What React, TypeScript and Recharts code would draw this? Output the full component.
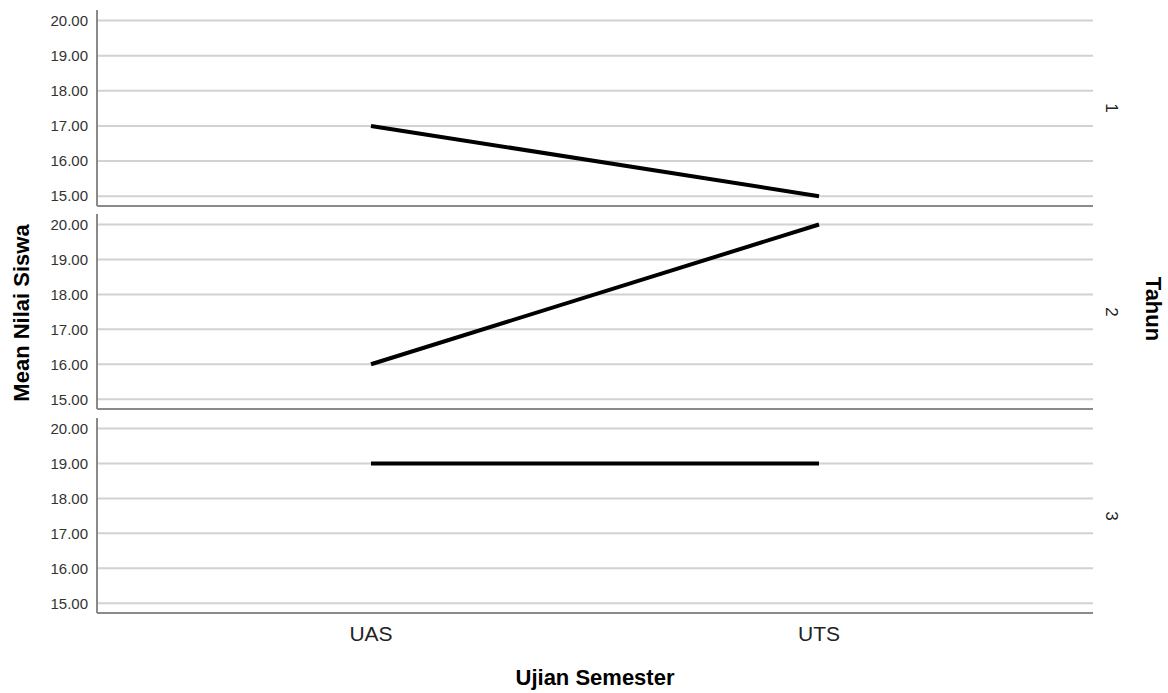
import { LineChart, Line, XAxis, YAxis, CartesianGrid } from "recharts";

const categories = ["UAS", "UTS"];
const years = ["1", "2", "3"];
const uasMeans = [17, 16, 19];
const utsMeans = [15, 20, 19];
const yTicks = [15, 16, 17, 18, 19, 20];

const FONT = '"Liberation Sans", Arial, sans-serif';
const AXIS = "#8a8a8a";
const GRID = "#d2d2d2";

const panels = [
  { top: 10, plot: 196 },
  { top: 214, plot: 195 },
  { top: 418, plot: 195 },
];

type PanelProps = { idx: number; last: boolean };

const Panel = ({ idx, last }: PanelProps) => {
  const data = categories.map((c, i) => ({
    ujian: c,
    mean: i === 0 ? uasMeans[idx] : utsMeans[idx],
  }));
  const p = panels[idx];
  const xHeight = last ? 80 : 2;

  return (
    <div style={{ position: "absolute", left: 0, top: p.top }}>
      <LineChart
        width={1168}
        height={p.plot + xHeight}
        data={data}
        margin={{ top: 0, right: 75, bottom: 0, left: 0 }}
      >
        <CartesianGrid
          yAxisId="l"
          vertical={false}
          syncWithTicks
          stroke={GRID}
          strokeWidth={2}
        />
        <XAxis
          dataKey="ujian"
          height={xHeight}
          padding={{ left: 274, right: 274 }}
          axisLine={{ stroke: AXIS, strokeWidth: 2 }}
          tickLine={false}
          tickSize={0}
          tickMargin={13}
          tick={last ? { fontSize: 21, fill: "#222" } : false}
        />
        <YAxis
          yAxisId="l"
          width={97}
          domain={[14.72, 20.3]}
          ticks={yTicks}
          type="number"
          allowDataOverflow
          tickFormatter={(v: number) => v.toFixed(2)}
          axisLine={{ stroke: AXIS, strokeWidth: 2 }}
          tickLine={false}
          tickSize={0}
          tickMargin={9}
          tick={{ fontSize: 15, fill: "#333" }}
        />
        <Line
          yAxisId="l"
          type="linear"
          dataKey="mean"
          stroke="#000"
          strokeWidth={4}
          dot={false}
          activeDot={false}
          isAnimationActive={false}
        />
      </LineChart>
    </div>
  );
};

const rotated = (
  text: string,
  cx: number,
  cy: number,
  deg: number,
  size: number,
  bold: boolean
) => (
  <div
    key={text + cx + cy}
    style={{
      position: "absolute",
      left: cx,
      top: cy,
      transform: `translate(-50%, -50%) rotate(${deg}deg)`,
      whiteSpace: "nowrap",
      fontSize: size,
      fontWeight: bold ? 700 : 400,
      color: bold ? "#000" : "#222",
      lineHeight: 1,
    }}
  >
    {text}
  </div>
);

export default function App() {
  return (
    <div
      style={{
        position: "absolute",
        left: 0,
        top: 0,
        width: 1168,
        height: 693,
        background: "#fff",
        fontFamily: FONT,
      }}
    >
      {years.map((_, i) => (
        <Panel key={i} idx={i} last={i === years.length - 1} />
      ))}
      {years.map((y, i) =>
        rotated(y, 1111, panels[i].top + panels[i].plot / 2, 90, 17, false)
      )}
      {rotated("Mean Nilai Siswa", 22, 313, -90, 22, true)}
      {rotated("Tahun", 1153, 309, 90, 22, true)}
      {rotated("Ujian Semester", 595, 678, 0, 22, true)}
    </div>
  );
}
